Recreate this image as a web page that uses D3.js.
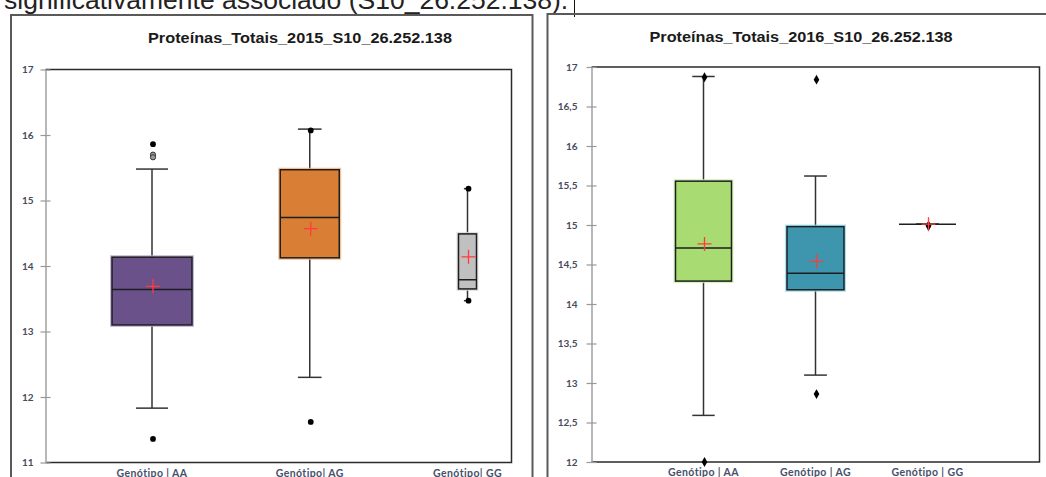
<!DOCTYPE html>
<html>
<head>
<meta charset="utf-8">
<script src="https://cdn.jsdelivr.net/npm/d3@7"></script>
<style>
  html, body { margin: 0; padding: 0; background: #fff; }
  svg { display: block; }
</style>
</head>
<body>
<svg id="chart" width="1046" height="477"></svg>
<script>
// ---- Data: Proteínas totais por genótipo (marcador S10_26.252.138) ----
const categories = ["Genótipo | AA", "Genótipo| AG", "Genótipo| GG"];
const categories2016 = ["Genótipo | AA", "Genótipo | AG", "Genótipo | GG"];

// 2015
const low2015    = [11.83, 12.30, 13.47];
const q1_2015    = [13.10, 14.125, 13.65];
const median2015 = [13.64, 14.74, 13.79];
const q3_2015    = [14.135, 15.47, 14.49];
const high2015   = [15.48, 16.09, 15.18];
const mean2015   = [13.69, 14.57, 14.14];
const minPt2015  = [11.36, 11.62, 13.47];
const maxPt2015  = [15.86, 16.07, 15.18];
const outliers2015 = [[15.70, 15.66], [], []];
const ticks2015  = [11, 12, 13, 14, 15, 16, 17];

// 2016
const low2016    = [12.59, 13.10, 15.01];
const q1_2016    = [14.29, 14.18, 15.01];
const median2016 = [14.71, 14.39, 15.01];
const q3_2016    = [15.555, 14.98, 15.01];
const high2016   = [16.88, 15.62, 15.01];
const mean2016   = [14.76, 14.54, 15.01];
const minPt2016  = [12.00, 12.86, 14.99];
const maxPt2016  = [16.87, 16.84, 14.99];
const outliers2016 = [[], [], []];
const ticks2016  = [12, 12.5, 13, 13.5, 14, 14.5, 15, 15.5, 16, 16.5, 17];

const colors2015 = ["#6b5189", "#d97f35", "#c0c0c0"];
const halos2015  = ["#b9a6d4", "#f3b27a", "#d8d8d8"];
const colors2016 = ["#a8db72", "#3e96ae"];
const halos2016  = ["#cdeeb0", "#8fdcef"];

// ---- Layout ----
const svg = d3.select("#chart");
const labelFont = "Lato, 'Open Sans', sans-serif";

// Running sentence above the figures (its upper half lies above the page edge)
svg.append("text")
  .attr("x", 4).attr("y", 9)
  .attr("font-family", "'Liberation Sans', Arial, sans-serif")
  .attr("font-size", 26.5)
  .attr("fill", "#222")
  .text("significativamente associado (S10_26.252.138).");
svg.append("line")
  .attr("x1", 574.5).attr("x2", 574.5).attr("y1", 0).attr("y2", 17)
  .attr("stroke", "#111").attr("stroke-width", 1);

// Panel frames
svg.append("path")
  .attr("d", "M11,480 V15 H532.5 V480")
  .attr("fill", "none").attr("stroke", "#5a5a5a").attr("stroke-width", 2);
svg.append("path")
  .attr("d", "M547.5,480 V14 H1050")
  .attr("fill", "none").attr("stroke", "#5a5a5a").attr("stroke-width", 2);

function drawPanel(cfg) {
  const g = svg.append("g");
  const y = d3.scaleLinear().domain(cfg.domain).range([cfg.bottom, cfg.top]);
  const x = d3.scalePoint().domain(cfg.categories).range(cfg.xRange);

  // Title
  g.append("text")
    .attr("x", cfg.titleX - cfg.titleW / 2).attr("y", cfg.titleY)
    .attr("font-family", "'Liberation Sans', Arial, sans-serif")
    .attr("font-weight", "bold").attr("font-size", 14.5)
    .attr("textLength", cfg.titleW).attr("lengthAdjust", "spacingAndGlyphs")
    .attr("fill", "#1a1a1a")
    .text(cfg.title);

  // Plot frame (top, right, bottom)
  g.append("path")
    .attr("d", `M${cfg.left},${cfg.top} H${cfg.right} V${cfg.bottom} H${cfg.left}`)
    .attr("fill", "none").attr("stroke", "#2a2a2a").attr("stroke-width", 1.5);

  // Y axis
  const axis = d3.axisLeft(y).tickValues(cfg.ticks).tickSize(0)
    .tickFormat(d => String(d).replace(".", ","));
  const ax = g.append("g").attr("transform", `translate(${cfg.left},0)`).call(axis);
  ax.select(".domain").attr("stroke", "#a0a0a0").attr("stroke-width", 1.5);
  ax.selectAll(".tick line").remove();
  ax.selectAll(".tick").append("line")
    .attr("x1", -5).attr("x2", 5).attr("stroke", "#999").attr("stroke-width", 1.2);
  ax.selectAll(".tick text")
    .attr("x", cfg.labelDx)
    .attr("font-family", labelFont).attr("font-size", 10).attr("font-weight", "bold")
    .attr("fill", "#4a4a5e");

  // Category labels
  g.selectAll(".cat").data(cfg.categories).enter().append("text")
    .attr("x", d => x(d)).attr("y", cfg.bottom + 14)
    .attr("text-anchor", "middle")
    .attr("font-family", labelFont).attr("font-size", 10.5).attr("font-weight", "bold")
    .attr("letter-spacing", 0.4)
    .attr("fill", "#46506a")
    .text(d => d);

  cfg.categories.forEach((c, i) => {
    const cx = x(c);
    const w = cfg.boxW[i];
    const cap = w * 0.4;
    const col = "#333";

    // Whiskers
    g.append("line").attr("x1", cx).attr("x2", cx)
      .attr("y1", y(cfg.high[i])).attr("y2", y(cfg.q3[i]))
      .attr("stroke", col).attr("stroke-width", 1.5);
    g.append("line").attr("x1", cx).attr("x2", cx)
      .attr("y1", y(cfg.q1[i])).attr("y2", y(cfg.low[i]))
      .attr("stroke", col).attr("stroke-width", 1.5);
    [cfg.high[i], cfg.low[i]].forEach(v => {
      g.append("line").attr("x1", cx - cap / 2).attr("x2", cx + cap / 2)
        .attr("y1", y(v)).attr("y2", y(v))
        .attr("stroke", col).attr("stroke-width", 1.5);
    });

    // Box
    const bh = y(cfg.q1[i]) - y(cfg.q3[i]);
    if (bh > 0.5) {
      g.append("rect")
        .attr("x", cx - w / 2).attr("y", y(cfg.q3[i])).attr("width", w).attr("height", bh)
        .attr("fill", cfg.fill[i]).attr("stroke", cfg.halo[i]).attr("stroke-width", 4)
        .attr("stroke-opacity", 0.8);
      g.append("rect")
        .attr("x", cx - w / 2).attr("y", y(cfg.q3[i])).attr("width", w).attr("height", bh)
        .attr("fill", cfg.fill[i]).attr("stroke", "#1e1e1e").attr("stroke-width", 1.5);
    }
    // Median
    g.append("line").attr("x1", cx - w / 2).attr("x2", cx + w / 2)
      .attr("y1", y(cfg.median[i])).attr("y2", y(cfg.median[i]))
      .attr("stroke", "#1e1e1e").attr("stroke-width", 1.5);

    // Min / max points
    [cfg.minPt[i], cfg.maxPt[i]].forEach(v => {
      g.append("path")
        .attr("transform", `translate(${cx + 1},${y(v)})`)
        .attr("d", d3.symbol().type(cfg.marker).size(cfg.markerSize)())
        .attr("fill", "#000");
    });
    // Outliers
    cfg.outliers[i].forEach(v => {
      g.append("circle").attr("cx", cx + 1).attr("cy", y(v)).attr("r", 2.6)
        .attr("fill", "#9a9a9a").attr("stroke", "#333").attr("stroke-width", 1);
    });

    // Mean
    const my = y(cfg.mean[i]), mx = cx + 1;
    g.append("path")
      .attr("d", `M${mx - 7},${my} H${mx + 7} M${mx},${my - 7} V${my + 7}`)
      .attr("stroke", "#ff3b3b").attr("stroke-width", 1.3).attr("fill", "none");
  });
}

drawPanel({
  title: "Proteínas_Totais_2015_S10_26.252.138",
  titleX: 300, titleY: 43, titleW: 304,
  categories: categories,
  domain: [11, 17], ticks: ticks2015,
  left: 45.5, right: 511.5, top: 69.5, bottom: 462.5,
  xRange: [152, 467.5], labelDx: -12,
  boxW: [80, 59, 18],
  low: low2015, q1: q1_2015, median: median2015, q3: q3_2015, high: high2015,
  mean: mean2015, minPt: minPt2015, maxPt: maxPt2015, outliers: outliers2015,
  fill: colors2015, halo: halos2015,
  marker: d3.symbolCircle, markerSize: 26
});

drawPanel({
  title: "Proteínas_Totais_2016_S10_26.252.138",
  titleX: 801, titleY: 42, titleW: 303,
  categories: categories2016,
  domain: [12, 17], ticks: ticks2016,
  left: 591.5, right: 1039.5, top: 67, bottom: 462,
  xRange: [703.5, 927.5], labelDx: -14,
  boxW: [56, 57, 57],
  low: low2016, q1: q1_2016, median: median2016, q3: q3_2016, high: high2016,
  mean: mean2016, minPt: minPt2016, maxPt: maxPt2016, outliers: outliers2016,
  fill: colors2016.concat(["#ccc"]), halo: halos2016.concat(["#ddd"]),
  marker: d3.symbolDiamond, markerSize: 28
});
</script>
</body>
</html>
